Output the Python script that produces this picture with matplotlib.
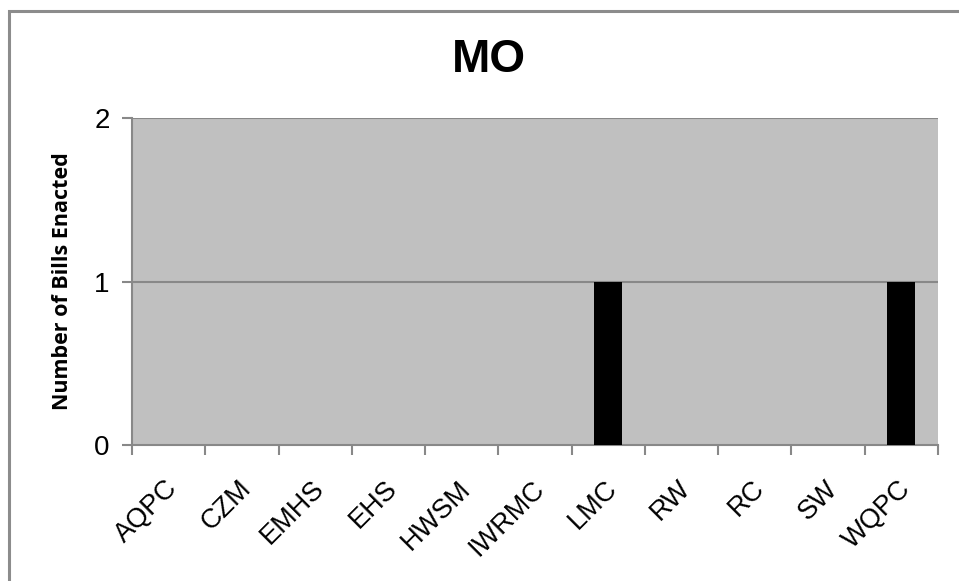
import matplotlib.pyplot as plt
from matplotlib.patches import Rectangle
import matplotlib.transforms as mtransforms

plt.rcParams['font.family'] = ['Liberation Sans', 'DejaVu Sans']

categories = ["AQPC", "CZM", "EMHS", "EHS", "HWSM", "IWRMC", "LMC", "RW", "RC", "SW", "WQPC"]
bills = [0, 0, 0, 0, 0, 0, 1, 0, 0, 0, 1]
yticks = [0, 1, 2]

fig = plt.figure(figsize=(9.59, 5.81), dpi=100)
ax = fig.add_axes([132/959, 1 - 445/581, (938 - 132)/959, (445 - 118)/581])

# outer chart border (only top/left visible in the crop)
fig.patches.append(Rectangle((9/959, -0.1), 1.2, 1 - 11/581 + 0.1, transform=fig.transFigure,
                             fill=False, edgecolor="#8c8c8c", linewidth=2.2))

ax.set_facecolor("#c0c0c0")
x = list(range(len(categories)))
ax.bar(x, bills, width=0.38, color="black", zorder=3)

ax.set_xlim(-0.5, len(categories) - 0.5)
ax.set_ylim(0, 2)
ax.set_yticks(yticks)
ax.set_yticklabels([str(v) for v in yticks], fontsize=20)
ax.tick_params(axis="y", length=7, color="#888888", width=1.5, pad=9)
for v in yticks[1:]:
    ax.axhline(v, color="#888888", linewidth=1.5, zorder=2)

ax.set_xticks(x)
ax.set_xticklabels(categories, fontsize=19.5, rotation=45, ha="right", va="top",
                   rotation_mode="anchor")
ax.tick_params(axis="x", length=0, pad=22)
offset = mtransforms.ScaledTranslation(-4/100, 0, fig.dpi_scale_trans)
for lab in ax.get_xticklabels():
    lab.set_transform(lab.get_transform() + offset)
ax.set_xticks([i - 0.5 for i in range(len(categories) + 1)], minor=True)
ax.tick_params(axis="x", which="minor", length=7, color="#888888", width=1.5)

for s in ["top", "right"]:
    ax.spines[s].set_visible(False)
for s in ["left", "bottom"]:
    ax.spines[s].set_color("#888888")
    ax.spines[s].set_linewidth(1.5)

ax.set_ylabel("Number of Bills Enacted", fontsize=15.5, fontweight="bold",
              family=["Open Sans", "DejaVu Sans"], labelpad=15)
fig.text(489/959, 1 - 60/581, "MO", fontsize=33, fontweight="bold", ha="center", va="center")

fig.savefig("out.png", dpi=100)
